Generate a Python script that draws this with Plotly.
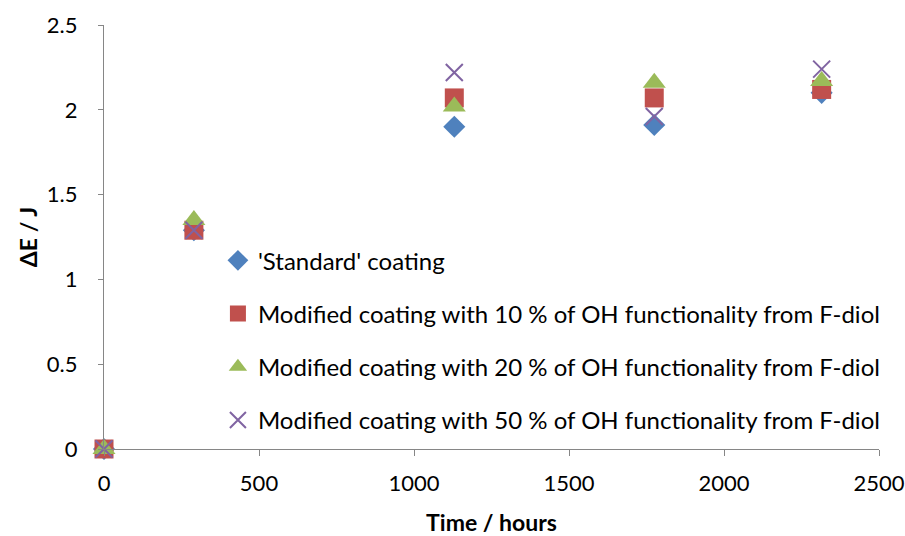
import plotly.graph_objects as go

# Exposure time (hours) and colour change for each coating
time_hours = [0, 290, 1130, 1775, 2315]
standard = [0, 1.29, 1.90, 1.91, 2.10]
fdiol_10 = [0, 1.29, 2.07, 2.07, 2.12]
fdiol_20 = [0, 1.35, 2.02, 2.16, 2.17]
fdiol_50 = [0, 1.29, 2.22, 1.96, 2.24]

series_names = [
    "'Standard' coating",
    "Modified coating with 10 % of OH functionality from F-diol",
    "Modified coating with 20 % of OH functionality from F-diol",
    "Modified coating with 50 % of OH functionality from F-diol",
]
x_ticks = [0, 500, 1000, 1500, 2000, 2500]
y_ticks = [0, 0.5, 1, 1.5, 2, 2.5]

FONT = "Lato"
styles = [
    dict(symbol="diamond", color="#4F81BD", size=17),
    dict(symbol="square", color="#C0504D", size=19),
    dict(symbol="triangle-up", color="#9BBB59", size=20),
    dict(symbol="x-thin-open", color="#8064A2", size=17),
]

fig = go.Figure()
for name, ys, st in zip(series_names, [standard, fdiol_10, fdiol_20, fdiol_50], styles):
    marker = dict(symbol=st["symbol"], size=st["size"], color=st["color"])
    if st["symbol"] == "x-thin-open":
        marker["line"] = dict(color=st["color"], width=2)
    else:
        marker["line"] = dict(width=0)
    fig.add_trace(go.Scatter(
        x=time_hours, y=ys, mode="markers", name=name, marker=marker,
        cliponaxis=False, legendgroup=name,
    ))

axis_common = dict(
    showgrid=False, zeroline=False, showline=True, linecolor="#868686",
    linewidth=1.3, ticks="outside", tickcolor="#868686", tickwidth=1.3,
    tickfont=dict(family=FONT, size=22, color="#000000"),
    automargin=False, ticklabeloverflow="allow",
)

fig.update_layout(
    width=905, height=536,
    margin=dict(l=104, r=26, t=25, b=87),
    paper_bgcolor="white", plot_bgcolor="white",
    font=dict(family=FONT, color="#000000"),
    xaxis=dict(
        range=[0, 2500], tickvals=x_ticks, ticklen=6, ticklabelstandoff=8,
        title=dict(text="<b>Time / hours</b>", font=dict(family=FONT, size=23), standoff=20),
        **axis_common,
    ),
    yaxis=dict(
        range=[0, 2.5], tickvals=y_ticks, ticklen=5, ticklabelstandoff=16,
        title=dict(text="<b>ΔE / J</b>", font=dict(family=FONT, size=23), standoff=2),
        **axis_common,
    ),
    legend=dict(
        x=0.147, y=0.497, xanchor="left", yanchor="top",
        font=dict(family=FONT, size=24, color="#000000"),
        bgcolor="rgba(0,0,0,0)", tracegroupgap=19, itemsizing="trace",
    ),
)

fig.write_html("out.html")
